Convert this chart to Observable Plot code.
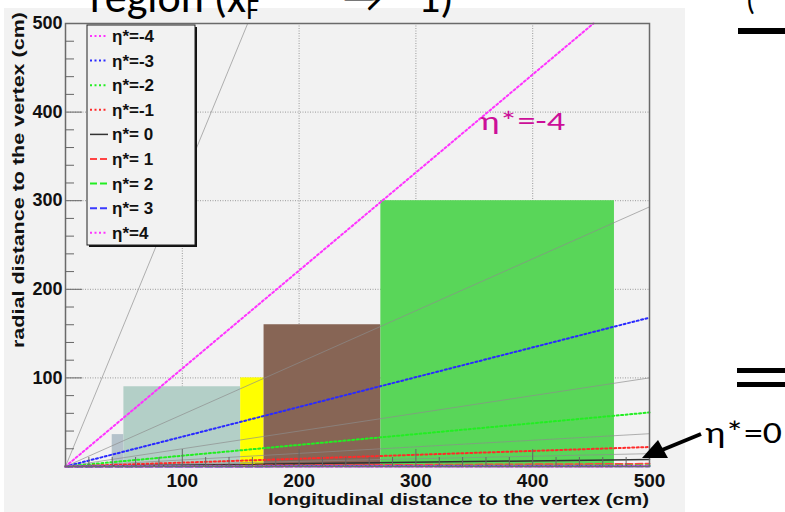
<!DOCTYPE html>
<html><head><meta charset="utf-8">
<script src="https://cdn.jsdelivr.net/npm/d3@7"></script>
<script src="https://cdn.jsdelivr.net/npm/@observablehq/plot@0.6"></script>
<style>
html,body{margin:0;padding:0;background:#fff;}
#wrap{position:relative;width:785px;height:512px;overflow:hidden;background:#fff;}
#panel{position:absolute;left:4px;top:8px;width:681px;height:504px;background:#f2f2f2;}
#chart{position:absolute;left:0;top:0;}
#deco{position:absolute;left:0;top:0;}
</style></head><body>
<div id="wrap"><div id="panel"></div><div id="chart"></div><svg id="deco" width="785" height="512"></svg></div>
<script>
// eta* lines: end points (longitudinal z, radial r) in cm, lines start at vertex (0,0)
const etaNames = ["η*=-4","η*=-3","η*=-2","η*=-1","η*= 0","η*= 1","η*= 2","η*= 3","η*=4"];
const etaColors = ["#ff33ff","#2a2aff","#22ee22","#ff2a2a","#333333","#ff4444","#22ee22","#3a3aff","#ff33ff"];
const etaDash = ["2,2.5","2,2.5","2,2.5","2,2.5",null,"7,3","7,3","7,3","2,2.5"];
const etaEndZ = [452,500,500,500,500,500,500,500,500];
const etaEndR = [500,168,61,22,8,3,1.1,0.4,0.15];

// thin grey reference lines (not in legend)
const refEndZ = [156,500,500,500,500];
const refEndR = [500,293,100,37,14.5];

// detector boxes
const boxX1 = [40,50,150,170,270];
const boxX2 = [50,150,170,270,470];
const boxTop = [36,90,100,160,300];
const boxColors = ["#b5c2cb","#b3cfc7","#ffff00","#876555","#59d659"];

const xTickLabels = [100,200,300,400,500];
const yTickLabels = [100,200,300,400,500];
const gridVals = [100,200,300,400];
const minorTicks = [20,40,60,80,120,140,160,180,220,240,260,280,320,340,360,380,420,440,460,480];
const majorTicks = [100,200,300,400];

const boxes = boxX1.map((x1,i)=>({x1, x2:boxX2[i], y1:0, y2:boxTop[i], c:boxColors[i]}));

const lineMarks = [];
refEndZ.forEach((z,i)=>{
  lineMarks.push(Plot.line([{z:0,r:0},{z, r:refEndR[i]}], {x:"z", y:"r", stroke:"#8c8c8c", strokeWidth:0.9, strokeOpacity:0.75}));
});
etaNames.forEach((n,i)=>{
  lineMarks.push(Plot.line([{z:0,r:0},{z:etaEndZ[i], r:etaEndR[i]}], {x:"z", y:"r", stroke:etaColors[i], strokeWidth: i===4?1.5:2, strokeDasharray:etaDash[i]}));
});

const font = "'Liberation Sans', Arial, Helvetica, sans-serif";
const chart = Plot.plot({
  width:785, height:512,
  marginLeft:65, marginRight:136, marginTop:23, marginBottom:46,
  x:{domain:[0,500]}, y:{domain:[0,500]},
  color:{type:"identity"},
  style:{background:"transparent", fontFamily:font, overflow:"visible"},
  marks:[
    Plot.gridX(gridVals, {stroke:"#999", strokeOpacity:1, strokeDasharray:"1,1.5"}),
    Plot.gridY(gridVals, {stroke:"#999", strokeOpacity:1, strokeDasharray:"1,1.5"}),
    Plot.rect(boxes, {x1:"x1", x2:"x2", y1:"y1", y2:"y2", fill:"c"}),
    ...lineMarks,
    Plot.frame({stroke:"#6a6a6a", strokeWidth:1.5}),
    Plot.axisY(minorTicks, {anchor:"left", tickSize:9, dx:9, tickFormat:()=>"", label:null, stroke:"#666"}),
    Plot.axisY(majorTicks, {anchor:"left", tickSize:17, dx:17, tickFormat:()=>"", label:null, stroke:"#666"}),
    Plot.axisX(minorTicks, {anchor:"bottom", tickSize:9, dy:-9, tickFormat:()=>"", label:null, stroke:"#666"}),
    Plot.axisX(majorTicks, {anchor:"bottom", tickSize:17, dy:-17, tickFormat:()=>"", label:null, stroke:"#666"}),
    Plot.axisY(yTickLabels, {anchor:"left", tickSize:0, tickPadding:3, fontSize:18, fontWeight:"bold", fill:"#111", label:null}),
    Plot.axisX(xTickLabels, {anchor:"bottom", tickSize:0, tickPadding:7, fontSize:19, fontWeight:"bold", fill:"#111", label:null})
  ]
});
document.getElementById("chart").appendChild(chart);

// decorations: axis titles, legend, slide annotations
const deco = d3.select("#deco");
deco.append("text").attr("x",649).attr("y",505).attr("text-anchor","end")
  .attr("font-family",font).attr("font-weight","bold").attr("font-size",17).attr("fill","#111")
  .attr("textLength",381).attr("lengthAdjust","spacingAndGlyphs")
  .text("longitudinal distance to the vertex (cm)");
deco.append("text").attr("transform","translate(24,180) rotate(-90)").attr("text-anchor","middle")
  .attr("font-family",font).attr("font-weight","bold").attr("font-size",17).attr("fill","#111")
  .attr("textLength",336).attr("lengthAdjust","spacingAndGlyphs")
  .text("radial distance to the vertex (cm)");

// legend
const lg = deco.append("g");
lg.append("rect").attr("x",89).attr("y",27).attr("width",108).attr("height",220).attr("fill","#111");
lg.append("rect").attr("x",87).attr("y",25).attr("width",108).attr("height",220).attr("fill","#f2f2f2").attr("stroke","#222").attr("stroke-width",1);
etaNames.forEach((n,i)=>{
  const y = 36 + i*24.6;
  lg.append("line").attr("x1",90).attr("x2",108).attr("y1",y).attr("y2",y)
    .attr("stroke",etaColors[i]).attr("stroke-width",i===4?1.5:2).attr("stroke-dasharray",etaDash[i]);
  lg.append("text").attr("x",112).attr("y",y+6).attr("font-family",font).attr("font-weight","bold")
    .attr("font-size",17).attr("fill","#111").text(n);
});

// slide texts
const slide = "Calibri, Carlito, 'Open Sans', 'Noto Sans', sans-serif";
const rt = deco.append("text").attr("x",90).attr("y",12).attr("font-family",slide).attr("font-size",44).attr("fill","#000");
rt.append("tspan").text("region (x");
rt.append("tspan").attr("font-size",28).attr("dy",7).text("F");
rt.append("tspan").attr("dy",-7).attr("x",343).text("→");
rt.append("tspan").attr("x",396).text("−1)");
deco.append("text").attr("x",746).attr("y",10).attr("font-family",slide).attr("font-size",30).text("(");
deco.append("rect").attr("x",738).attr("y",28).attr("width",47).attr("height",6).attr("fill","#000");
deco.append("rect").attr("x",737).attr("y",368).attr("width",48).attr("height",5).attr("fill","#000");
deco.append("rect").attr("x",737).attr("y",382).attr("width",48).attr("height",5).attr("fill","#000");

deco.append("text").attr("x",480).attr("y",130).attr("font-family",slide).attr("font-size",27)
  .attr("fill","#cc0f99").attr("textLength",85).attr("lengthAdjust","spacingAndGlyphs").text("η*=-4");
deco.append("text").attr("x",705).attr("y",443).attr("font-family",slide).attr("font-size",30)
  .attr("fill","#000").attr("textLength",77).attr("lengthAdjust","spacingAndGlyphs").text("η*=0");
deco.append("line").attr("x1",701).attr("y1",434).attr("x2",662).attr("y2",450).attr("stroke","#000").attr("stroke-width",4);
deco.append("polygon").attr("points","642,458 658,440 668,458").attr("fill","#000");
</script>
</body></html>
